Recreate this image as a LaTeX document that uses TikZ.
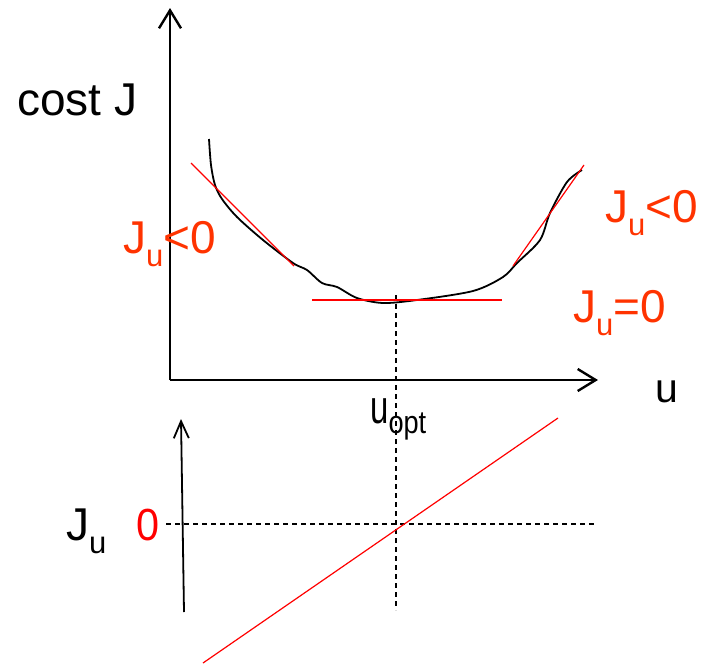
\documentclass[tikz,border=0pt]{standalone}
\usepackage{fontspec}
\setmainfont{Liberation Sans}
\usetikzlibrary{arrows.meta}
\definecolor{lblred}{RGB}{255,51,0}
\definecolor{pured}{RGB}{255,0,0}
\newcommand{\bigtxt}[1]{\fontsize{46}{46}\selectfont #1}
\newcommand{\subu}{\raisebox{-13pt}{\fontsize{31}{31}\selectfont u}}
\tikzset{
  axis/.style={line width=2.4pt, -{Straight Barb[length=18pt,width=22pt]}},
  axisthin/.style={line width=1.8pt, -{Straight Barb[length=17pt,width=15pt]}},
  costcurve/.style={line width=1.8pt, black},
  tangent/.style={line width=1.2pt, pured},
  guide/.style={line width=1.4pt, dash pattern=on 5pt off 4pt},
  lbl/.style={inner sep=0pt, anchor=base west},
}
\begin{document}
\begin{tikzpicture}[x=1pt,y=-1pt]
\useasboundingbox (0,0) rectangle (702,664);
% coordinates
\coordinate (ytip) at (170,8);
\coordinate (org) at (170,380);
\coordinate (xtip) at (598,380);
\coordinate (lowbot) at (184,612);
\coordinate (lowtip) at (181,419);
\coordinate (vtop) at (396,295);
\coordinate (vbot) at (396,610);
\coordinate (hleft) at (166,524);
\coordinate (hright) at (597,524);
\coordinate (rla) at (203,663);
\coordinate (rlb) at (558,418);
\coordinate (tla) at (191,163);
\coordinate (tlb) at (294,266);
\coordinate (tha) at (312,300);
\coordinate (thb) at (502,300);
\coordinate (tra) at (513,266);
\coordinate (trb) at (584,165);
% axes
\draw[axis] (org) -- (ytip);
\draw[axis] (org) -- (xtip);
\draw[axisthin] (lowbot) -- (lowtip);
% dashed guides
\draw[guide] (vtop) -- (vbot);
\draw[guide] (hleft) -- (hright);
% cost curve
\draw[costcurve] plot[smooth, tension=0.5] coordinates {(209,139) (211,165) (215,185) (222,199) (237,217) (263,240) (293,263) (307,270) (322,283) (337,287) (357,298) (383,303) (417,300) (473,291) (503,277) (517,263) (540,240) (550,213) (567,182) (582,170)};
% tangents
\draw[tangent] (tla) -- (tlb);
\draw[tangent] (tha) -- (thb);
\draw[tangent] (tra) -- (trb);
\draw[tangent] (rla) -- (rlb);
% labels
\node[lbl] (cost) at (17,115) {\bigtxt{cost J}};
\node[lbl] (uax) at (655,402) {\fontsize{41}{41}\selectfont u};
\node[lbl] (uopt) at (370,423) {\scalebox{0.7}[1]{\fontsize{47}{47}\selectfont u}\raisebox{-10pt}{\scalebox{0.85}[1]{\fontsize{32}{32}\selectfont opt}}};
\node[lbl, text=lblred] (jl) at (123,253) {\bigtxt{J\subu<0}};
\node[lbl, text=lblred] (jr) at (605,222) {\bigtxt{J\subu<0}};
\node[lbl, text=lblred] (je) at (573,322) {\bigtxt{J\subu=0}};
\node[lbl] (ju) at (66,540) {\bigtxt{J\subu}};
\node[lbl, text=pured] (zero) at (136,540) {\scalebox{0.92}[1]{\fontsize{45}{45}\selectfont 0}};
\end{tikzpicture}
\end{document}
